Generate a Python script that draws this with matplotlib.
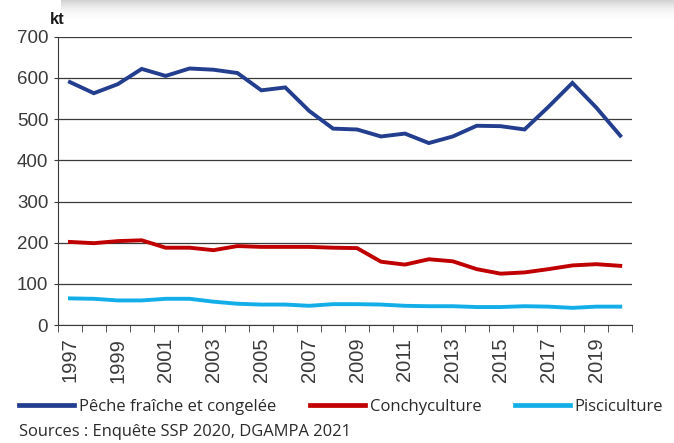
import numpy as np
import matplotlib
matplotlib.use("Agg")
import matplotlib.pyplot as plt
from matplotlib.ticker import FixedLocator, NullFormatter

plt.rcParams.update({"font.family": ["Liberation Sans", "DejaVu Sans"]})

years = list(range(1997, 2021))
peche = [590, 563, 585, 622, 605, 623, 620, 612, 570, 577, 520, 477,
         475, 458, 465, 442, 458, 484, 483, 475, 530, 588, 528, 460]
conchy = [202, 199, 204, 206, 188, 188, 182, 192, 190, 190, 190, 188,
          187, 154, 147, 160, 155, 136, 125, 128, 136, 145, 148, 144]
pisci = [65, 64, 60, 60, 64, 64, 57, 52, 50, 50, 47, 51,
         51, 50, 47, 46, 46, 44, 44, 46, 45, 42, 45, 45]
labels = ["Pêche fraîche et congelée", "Conchyculture", "Pisciculture"]
colors = ["#233d8f", "#c00000", "#13aee8"]

fig = plt.figure(figsize=(6.74, 4.43), dpi=100)

# card shadow along the top edge
sh = fig.add_axes([0.09, 0.955, 0.91, 0.045])
grad = np.linspace(1.0, 0.0, 50).reshape(-1, 1) ** 1.5
sh.imshow(grad, aspect="auto", cmap="Greys", vmin=0, vmax=3.5,
          extent=[0, 1, 0, 1])
sh.axis("off")

ax = fig.add_axes([0.086, 0.266, 0.852, 0.651])
for vals, c in zip([peche, conchy, pisci], colors):
    ax.plot(years, vals, color=c, lw=2.8, solid_joinstyle="miter")

ax.set_xlim(1996.5, 2020.5)
ax.set_ylim(0, 700)
ax.set_yticks(range(0, 701, 100))
ax.grid(axis="y", color="#3a3a3a", lw=0.9)
ax.set_axisbelow(True)
for s in ["top", "right"]:
    ax.spines[s].set_visible(False)
ax.spines["left"].set_color("#3a3a3a")
ax.spines["bottom"].set_color("#3a3a3a")

ax.xaxis.set_major_locator(FixedLocator(years[::2]))
ax.set_xticklabels([str(y) for y in years[::2]], rotation=90, fontsize=14.5,
                   color="#3a3a3a")
ax.tick_params(axis="x", which="major", length=0, pad=9)
ax.xaxis.set_minor_locator(FixedLocator(np.arange(1996.5, 2021, 1)))
ax.xaxis.set_minor_formatter(NullFormatter())
ax.tick_params(axis="x", which="minor", length=5, color="#3a3a3a")
ax.tick_params(axis="y", length=3, color="#3a3a3a", labelsize=13.5,
               labelcolor="#3a3a3a", pad=4)

fig.text(0.074, 0.945, "kt", fontsize=12, fontweight="bold", color="#1a1a1a")

handles = [plt.Line2D([], [], color=c, lw=3.4) for c in colors]
fig.legend(handles, labels, loc="center", bbox_to_anchor=(0.506, 0.081),
           ncol=3, frameon=False, handlelength=3.3,
           handletextpad=0.3, columnspacing=2.0, labelcolor="#2a2a2a",
           prop={"family": "Open Sans", "size": 12})
fig.text(0.028, 0.016, "Sources : Enquête SSP 2020, DGAMPA 2021",
         color="#2a2a2a", family="Open Sans", size=11.9)

fig.savefig("out.png", dpi=100)
